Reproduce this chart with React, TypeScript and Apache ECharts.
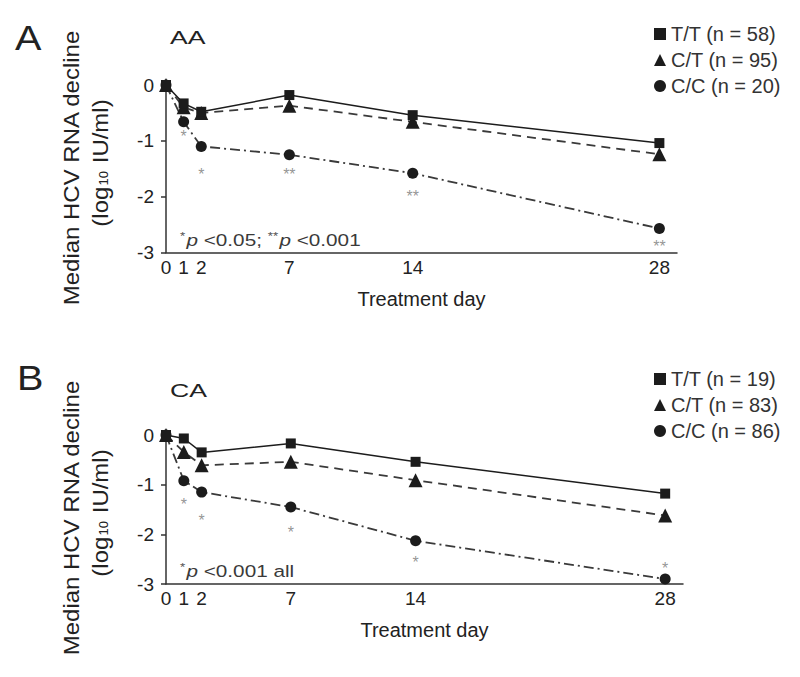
import React, { useEffect, useRef } from 'react';
import * as echarts from 'echarts';

const FONT = '"Liberation Sans", Arial, Helvetica, sans-serif';

// Treatment days (x values)
const days = [0, 1, 2, 7, 14, 28];
const xTickLabels = [0, 1, 2, 7, 14, 28];
const yTicks = [0, -1, -2, -3];

// Panel A (AA)
const aNames = ['T/T (n = 58)', 'C/T (n = 95)', 'C/C (n = 20)'];
const aTT = [0, -0.33, -0.48, -0.18, -0.54, -1.04];
const aCT = [0, -0.4, -0.5, -0.37, -0.66, -1.24];
const aCC = [0, -0.66, -1.1, -1.25, -1.58, -2.57];
const aStars: [number, number, string][] = [
  [1, -0.93, '*'],
  [2, -1.6, '*'],
  [7, -1.6, '**'],
  [14, -2.0, '**'],
  [28, -2.9, '**'],
];

// Panel B (CA)
const bNames = ['T/T (n = 19)', 'C/T (n = 83)', 'C/C (n = 86)'];
const bTT = [0, -0.07, -0.35, -0.17, -0.54, -1.18];
const bCT = [0, -0.34, -0.61, -0.54, -0.91, -1.62];
const bCC = [0, -0.92, -1.15, -1.45, -2.13, -2.9];
const bStars: [number, number, string][] = [
  [1, -1.39, '*'],
  [2, -1.72, '*'],
  [7, -1.96, '*'],
  [14, -2.57, '*'],
  [28, -2.69, '*'],
];

const DARK = '#1c1c1c';
const GRAY = '#3a3a3a';

const pair = (ys: number[]) => days.map((d, i) => [d, ys[i]]);

function lineSeries(name: string, ys: number[], idx: number, kind: number) {
  const symbols = ['rect', 'triangle', 'circle'];
  const sizes = [10, 14, 11];
  const types: any[] = ['solid', [9, 6], [10, 4, 2, 4]];
  return {
    type: 'line',
    name,
    xAxisIndex: idx,
    yAxisIndex: idx,
    data: pair(ys),
    symbol: symbols[kind],
    symbolSize: sizes[kind],
    showSymbol: true,
    clip: false,
    z: 5 - kind,
    itemStyle: { color: DARK },
    lineStyle: { color: kind === 0 ? DARK : GRAY, width: kind === 0 ? 1.5 : 1.8, type: types[kind] },
    emphasis: { disabled: true },
  };
}

function starSeries(stars: [number, number, string][], idx: number) {
  return {
    type: 'scatter',
    xAxisIndex: idx,
    yAxisIndex: idx,
    data: stars.map((s) => [s[0], s[1], s[2]]),
    symbolSize: 1,
    itemStyle: { color: 'rgba(0,0,0,0)' },
    clip: false,
    z: 1,
    label: {
      show: true,
      position: 'inside',
      offset: [0, 4],
      formatter: (p: any) => p.value[2],
      color: '#7a7a7a',
      fontSize: 16,
      fontFamily: FONT,
    },
    labelLayout: { hideOverlap: false },
    emphasis: { disabled: true },
  };
}

function xAxis(idx: number) {
  return {
    type: 'value',
    gridIndex: idx,
    min: 0,
    max: 29,
    axisLine: { show: true, onZero: false, lineStyle: { color: '#333', width: 1.5 } },
    axisTick: { show: false },
    splitLine: { show: false },
    axisLabel: {
      customValues: xTickLabels,
      fontSize: 19,
      color: '#222',
      fontFamily: FONT,
      margin: 5,
    },
    name: 'Treatment day',
    nameLocation: 'middle',
    nameGap: 36,
    nameTextStyle: { fontSize: 20, color: '#222', fontFamily: FONT },
  };
}

function yAxis(idx: number) {
  return {
    type: 'value',
    gridIndex: idx,
    min: -3,
    max: 0,
    interval: 1,
    axisLine: { show: true, onZero: false, lineStyle: { color: '#333', width: 1.5 } },
    axisTick: { show: true, customValues: yTicks, length: 5, lineStyle: { color: '#333', width: 1.5 } },
    splitLine: { show: false },
    axisLabel: {
      customValues: yTicks,
      fontSize: 19,
      color: '#222',
      fontFamily: FONT,
      margin: 12,
    },
  };
}

function legend(names: string[], top: number) {
  const icons = ['rect', 'triangle', 'circle'];
  return {
    orient: 'vertical',
    left: 649,
    top,
    itemWidth: 12,
    itemHeight: 12,
    itemGap: 6,
    itemTextGap: 15,
    selectedMode: false,
    textStyle: { fontSize: 20, color: '#333', fontFamily: FONT },
    data: names.map((n, i) => ({ name: n, icon: icons[i] })),
  };
}

function yName(x: number, yc: number) {
  return [
    {
      type: 'text',
      x,
      y: yc,
      rotation: Math.PI / 2,
      scaleX: 1.09,
      style: {
        text: 'Median HCV RNA decline',
        fontSize: 22,
        fontFamily: FONT,
        fill: '#222',
        align: 'center',
        verticalAlign: 'middle',
      },
    },
    {
      type: 'text',
      x: x + 29,
      y: yc - 5,
      rotation: Math.PI / 2,
      scaleX: 1.09,
      style: {
        text: '(log{sub|10} IU/ml)',
        fontSize: 22,
        fontFamily: FONT,
        fill: '#222',
        align: 'center',
        verticalAlign: 'middle',
        rich: {
          sub: { fontSize: 12, fontFamily: FONT, fill: '#222', padding: [9, 1, 0, 1] },
        },
      },
    },
  ];
}

function note(text: string, y: number) {
  return {
    type: 'text',
    x: 180,
    y,
    scaleX: 1.22,
    style: {
      text,
      fontSize: 17,
      fontFamily: FONT,
      fill: '#3a3a3a',
      verticalAlign: 'middle',
      rich: {
        s: { fontSize: 11, fontFamily: FONT, fill: '#555', padding: [0, 1, 8, 0] },
        i: { fontSize: 17, fontFamily: FONT, fill: '#3a3a3a', fontStyle: 'italic' },
      },
    },
  };
}

const option: any = {
  animation: false,
  backgroundColor: '#ffffff',
  grid: [
    { left: 166, top: 85, width: 511, height: 167.5 },
    { left: 166, top: 435, width: 517, height: 149 },
  ],
  xAxis: [xAxis(0), xAxis(1)],
  yAxis: [yAxis(0), yAxis(1)],
  legend: [legend(aNames, 19), legend(bNames, 364)],
  series: [
    lineSeries(aNames[0], aTT, 0, 0),
    lineSeries(aNames[1], aCT, 0, 1),
    lineSeries(aNames[2], aCC, 0, 2),
    starSeries(aStars, 0),
    lineSeries(bNames[0], bTT, 1, 0),
    lineSeries(bNames[1], bCT, 1, 1),
    lineSeries(bNames[2], bCC, 1, 2),
    starSeries(bStars, 1),
  ],
  graphic: [
    { type: 'text', x: 15, y: 20, scaleX: 1.1, style: { text: 'A', fontSize: 36, fontFamily: FONT, fill: '#222' } },
    { type: 'text', x: 170, y: 28, scaleX: 1.4, style: { text: 'AA', fontSize: 19, fontFamily: FONT, fill: '#222' } },
    { type: 'text', x: 17, y: 360, scaleX: 1.1, style: { text: 'B', fontSize: 36, fontFamily: FONT, fill: '#222' } },
    { type: 'text', x: 170, y: 381, scaleX: 1.4, style: { text: 'CA', fontSize: 19, fontFamily: FONT, fill: '#222' } },
    ...yName(71, 168),
    ...yName(71, 518),
    note('{s|*}{i|p} <0.05; {s|**}{i|p} <0.001', 240),
    note('{s|*}{i|p} <0.001 all', 571),
  ],
};

export default function App() {
  const ref = useRef<HTMLDivElement>(null);
  useEffect(() => {
    const chart = echarts.init(ref.current!, null, { renderer: 'svg' });
    chart.setOption(option);
    return () => chart.dispose();
  }, []);
  return (
    <div
      ref={ref}
      style={{ position: 'absolute', left: 0, top: 0, width: 800, height: 677, background: '#fff' }}
    />
  );
}
